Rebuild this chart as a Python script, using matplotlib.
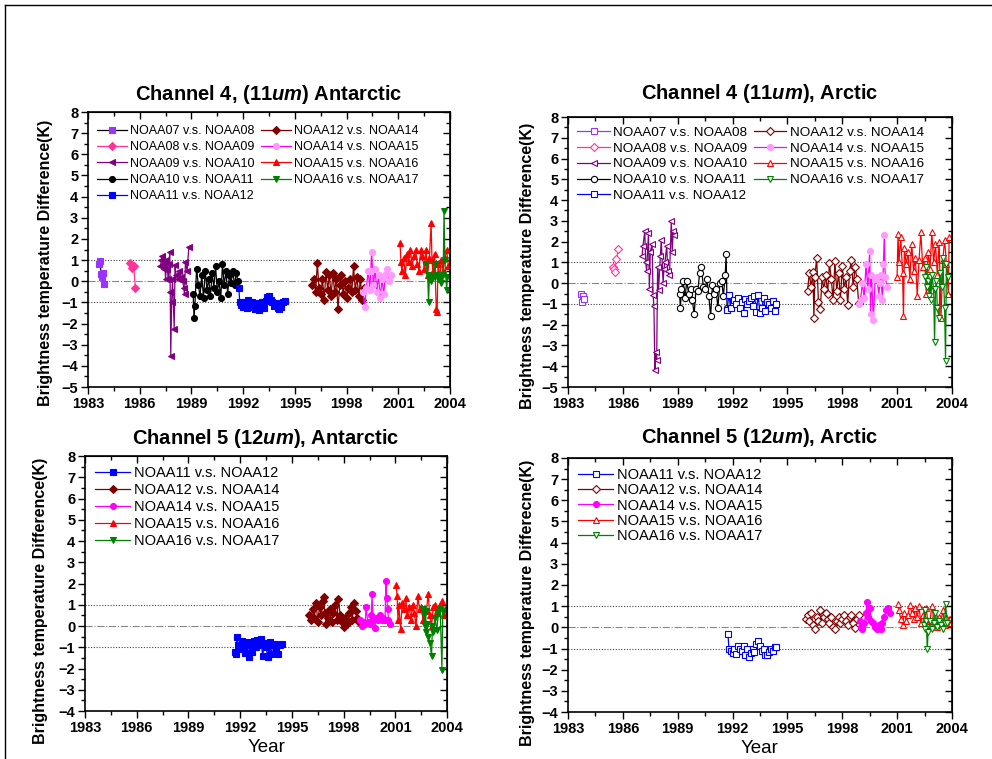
import matplotlib
matplotlib.use('Agg')
import matplotlib.pyplot as plt
from matplotlib.lines import Line2D
from matplotlib.ticker import MultipleLocator

plt.rcParams['font.family'] = ['Liberation Sans', 'DejaVu Sans']
plt.rcParams['mathtext.fontset'] = 'custom'
plt.rcParams['mathtext.it'] = 'Liberation Sans:italic:bold'
plt.rcParams['mathtext.rm'] = 'Liberation Sans:bold'

# ---- Channel 4 Antarctic ----
a4_n07_x = [1983.65, 1983.7, 1983.75, 1983.8, 1983.85, 1983.9]
a4_n07_y = [0.8, 0.95, 0.35, 0.2, 0.4, -0.15]
a4_n08_x = [1985.45, 1985.55, 1985.65, 1985.75]
a4_n08_y = [0.85, 0.65, 0.7, -0.3]
a4_n09_x = [1987.2, 1987.25, 1987.3, 1987.35, 1987.4, 1987.45, 1987.5, 1987.55, 1987.6, 1987.65,
            1987.7, 1987.74, 1987.77, 1987.8, 1987.85, 1987.9, 1988.0, 1988.05, 1988.1, 1988.2,
            1988.3, 1988.4, 1988.5, 1988.55, 1988.6, 1988.65, 1988.75, 1988.85]
a4_n09_y = [0.7, 1.0, 1.2, 0.8, 0.6, 0.9, 0.1, 1.0, 0.6, 0.1, 0.8, 1.4, -0.5, -3.55, -1.0, 0.1,
            -2.25, 0.75, 0.3, 0.1, 0.5, 0.2, 0.0, -0.3, -0.6, 0.9, 0.5, 1.6]
a4_n10_x = [1989.1, 1989.15, 1989.2, 1989.3, 1989.4, 1989.5, 1989.6, 1989.7, 1989.8, 1989.9,
            1990.0, 1990.1, 1990.2, 1990.3, 1990.4, 1990.5, 1990.6, 1990.7, 1990.8, 1990.9,
            1991.0, 1991.1, 1991.2, 1991.3, 1991.4, 1991.5, 1991.6, 1991.7]
a4_n10_y = [-0.6, -1.75, -1.15, 0.6, -0.2, -0.7, 0.3, -0.8, 0.5, -0.4, 0.1, -0.7, 0.4, -0.3, 0.7,
            -0.5, 0.0, -0.8, 0.8, -0.2, 0.5, -0.6, 0.3, -0.1, 0.5, -0.2, 0.4, 0.0]
a4_n11_x = [1991.75, 1991.8, 1991.9, 1992.0, 1992.1, 1992.2, 1992.3, 1992.4, 1992.5, 1992.6,
            1992.7, 1992.8, 1992.9, 1993.0, 1993.1, 1993.2, 1993.3, 1993.4, 1993.5, 1993.6,
            1993.7, 1993.8, 1993.9, 1994.0, 1994.1, 1994.2, 1994.3, 1994.4]
a4_n11_y = [-0.3, -1.0, -1.1, -1.2, -1.0, -1.25, -0.9, -1.1, -1.0, -1.2, -1.3, -1.05, -1.35, -1.1,
            -1.0, -1.25, -0.95, -0.75, -0.7, -0.9, -1.0, -1.15, -1.05, -1.25, -1.3, -1.2, -1.0, -0.95]
a4_n12_x = [1996.0, 1996.1, 1996.2, 1996.3, 1996.4, 1996.5, 1996.6, 1996.7, 1996.8, 1996.9,
            1997.0, 1997.1, 1997.2, 1997.3, 1997.4, 1997.5, 1997.6, 1997.7, 1997.8, 1997.9,
            1998.0, 1998.1, 1998.2, 1998.3, 1998.4, 1998.5, 1998.6, 1998.7, 1998.8, 1998.9, 1999.0]
a4_n12_y = [-0.2, 0.1, -0.5, 0.85, -0.3, -0.6, 0.1, -0.9, 0.45, -0.4, 0.3, -0.7, 0.4, -0.5, 0.1,
            -1.3, -0.2, 0.3, -0.6, 0.0, -0.8, -0.3, 0.1, -0.5, 0.7, -0.4, 0.2, -0.7, 0.1, -0.9, -0.3]
a4_n14_x = [1998.95, 1999.05, 1999.15, 1999.25, 1999.35, 1999.4, 1999.45, 1999.55, 1999.65,
            1999.75, 1999.85, 1999.95, 2000.05, 2000.15, 2000.25, 2000.35, 2000.45, 2000.55]
a4_n14_y = [-0.5, -1.2, -0.3, 0.5, -0.4, 0.5, 1.4, -0.2, 0.6, -0.5, 0.3, -0.8, 0.1, -0.6, 0.3,
            0.6, 0.0, 0.3]
a4_n15_x = [2001.1, 2001.15, 2001.2, 2001.3, 2001.4, 2001.5, 2001.6, 2001.7, 2001.8, 2001.9,
            2002.0, 2002.1, 2002.2, 2002.3, 2002.4, 2002.5, 2002.6, 2002.7, 2002.8, 2002.9,
            2002.95, 2003.0, 2003.1, 2003.2, 2003.25, 2003.3, 2003.4, 2003.5, 2003.6, 2003.7,
            2003.8, 2003.9]
a4_n15_y = [1.8, 0.9, 0.5, 1.1, 0.3, 1.3, 0.9, 1.5, 0.7, 1.2, 1.5, 0.8, 0.5, 1.5, 1.2, 0.6, 1.5,
            0.3, 1.1, 2.75, 1.0, 0.5, 1.3, -1.3, -1.45, 0.8, 0.2, 1.0, 0.5, 1.1, 1.5, 0.7]
a4_n16_x = [2002.6, 2002.7, 2002.75, 2002.8, 2002.9, 2003.0, 2003.1, 2003.2, 2003.3, 2003.4,
            2003.5, 2003.6, 2003.65, 2003.7, 2003.8, 2003.85]
a4_n16_y = [0.8, 0.3, -1.0, 0.1, 0.0, 0.2, 0.8, 0.3, 0.1, 0.2, -0.1, 0.3, 3.3, 1.0, -0.4, 0.2]

# ---- Channel 4 Arctic ----
r4_n07_x = [1983.7, 1983.75, 1983.8, 1983.85]
r4_n07_y = [-0.5, -0.9, -0.6, -0.75]
r4_n08_x = [1985.45, 1985.5, 1985.55, 1985.65, 1985.75]
r4_n08_y = [0.8, 0.7, 0.55, 1.15, 1.65]
r4_n09_x = [1987.05, 1987.1, 1987.2, 1987.25, 1987.3, 1987.4, 1987.45, 1987.5, 1987.6, 1987.65,
            1987.7, 1987.75, 1987.8, 1987.85, 1987.9, 1987.95, 1988.05, 1988.1, 1988.2, 1988.25,
            1988.3, 1988.4, 1988.45, 1988.55, 1988.65, 1988.7, 1988.75, 1988.8]
r4_n09_y = [1.3, 1.8, 2.5, 1.0, 0.6, 2.4, -0.3, 1.5, 1.9, -0.55, -1.1, -4.2, -3.3, -3.7, 0.8,
            -0.35, 1.3, 2.1, 0.0, 0.7, 1.0, 1.8, 0.6, 0.4, 3.0, 1.5, 2.5, 2.3]
r4_n10_x = [1989.1, 1989.15, 1989.2, 1989.3, 1989.4, 1989.5, 1989.6, 1989.7, 1989.8, 1989.9,
            1990.0, 1990.1, 1990.2, 1990.3, 1990.4, 1990.5, 1990.6, 1990.7, 1990.8, 1990.9,
            1991.0, 1991.1, 1991.2, 1991.3, 1991.4, 1991.5, 1991.6, 1991.65, 1991.7]
r4_n10_y = [-0.5, -1.2, -0.3, 0.1, -0.7, 0.1, -0.5, -0.3, -0.8, -1.5, -0.3, -0.4, 0.5, 0.8, -0.2,
            -0.3, 0.2, -0.6, -1.6, -0.1, -0.5, -0.3, -1.2, 0.0, 0.1, -0.6, 0.4, 1.4, -1.2]
r4_n11_x = [1991.7, 1991.8, 1991.9, 1992.0, 1992.1, 1992.2, 1992.3, 1992.4, 1992.5, 1992.6,
            1992.7, 1992.8, 1992.9, 1993.0, 1993.1, 1993.2, 1993.3, 1993.4, 1993.5, 1993.6,
            1993.7, 1993.8, 1993.9, 1994.0, 1994.1, 1994.2, 1994.3, 1994.35]
r4_n11_y = [-1.3, -0.55, -1.2, -0.9, -0.8, -1.0, -0.7, -1.2, -0.9, -1.45, -0.75, -1.0, -0.85,
            -0.7, -1.1, -0.6, -1.4, -0.55, -1.45, -1.2, -0.7, -1.35, -0.9, -1.0, -1.2, -0.85,
            -1.35, -1.0]
r4_n12_x = [1996.1, 1996.2, 1996.3, 1996.4, 1996.45, 1996.5, 1996.6, 1996.7, 1996.8, 1996.9,
            1997.0, 1997.1, 1997.2, 1997.3, 1997.4, 1997.5, 1997.6, 1997.7, 1997.8, 1997.9,
            1998.0, 1998.1, 1998.2, 1998.3, 1998.4, 1998.5, 1998.6, 1998.7, 1998.8, 1998.9]
r4_n12_y = [-0.4, 0.5, -0.2, 0.55, -1.7, 0.3, 1.2, -0.9, -1.25, 0.3, -0.3, 0.4, -0.5, 0.95, 0.2,
            -0.8, 1.05, -0.4, 0.5, -0.8, 0.85, -0.3, 0.3, -1.05, 0.6, 1.1, -0.2, 0.8, 0.2, -0.95]
r4_n14_x = [1998.9, 1999.0, 1999.1, 1999.2, 1999.3, 1999.4, 1999.5, 1999.55, 1999.6, 1999.7,
            1999.8, 1999.9, 2000.0, 2000.05, 2000.1, 2000.2, 2000.25, 2000.3, 2000.35, 2000.45]
r4_n14_y = [-1.0, -0.8, 0.0, -0.7, 0.9, -0.3, 1.55, -1.5, 0.4, -1.75, 0.2, 0.3, -0.6, 0.0, 0.4,
            -0.8, 0.9, 2.3, 0.3, -0.2]
r4_n15_x = [2001.0, 2001.05, 2001.1, 2001.2, 2001.3, 2001.35, 2001.4, 2001.5, 2001.6, 2001.7,
            2001.8, 2001.9, 2002.0, 2002.1, 2002.2, 2002.3, 2002.4, 2002.5, 2002.6, 2002.7,
            2002.8, 2002.9, 2003.0, 2003.1, 2003.2, 2003.3, 2003.4, 2003.5, 2003.6, 2003.7,
            2003.8, 2003.85]
r4_n15_y = [0.3, 2.35, 1.0, 2.2, 0.5, -1.6, 1.7, 0.9, 1.5, 0.2, 1.9, 0.6, 1.2, -0.6, 1.1, 2.45,
            0.8, 1.2, -0.5, 1.5, 0.7, 2.45, 1.0, 1.9, 0.4, 2.0, -1.7, 1.1, 2.1, 0.9, -0.5, 2.2]
r4_n16_x = [2002.55, 2002.6, 2002.65, 2002.7, 2002.75, 2002.8, 2002.85, 2002.9, 2003.0, 2003.05,
            2003.1, 2003.15, 2003.2, 2003.3, 2003.35, 2003.45, 2003.5, 2003.6, 2003.65, 2003.7,
            2003.8]
r4_n16_y = [0.3, 0.8, -0.2, 0.1, -0.6, 0.3, -0.8, 0.4, -0.3, -2.85, -0.3, 0.1, -1.2, -1.7, 0.5,
            -0.2, 1.2, -1.2, -3.75, 0.9, 0.3]

# ---- Channel 5 Antarctic ----
a5_n11_x = [1991.7, 1991.75, 1991.8, 1991.9, 1992.0, 1992.1, 1992.2, 1992.3, 1992.4, 1992.5,
            1992.6, 1992.7, 1992.8, 1992.9, 1993.0, 1993.1, 1993.2, 1993.3, 1993.4, 1993.5,
            1993.6, 1993.7, 1993.8, 1993.9, 1994.0, 1994.1, 1994.2, 1994.3, 1994.4]
a5_n11_y = [-1.2, -1.3, -0.5, -0.9, -1.1, -0.7, -1.0, -1.25, -0.75, -1.45, -0.9, -1.2, -0.7,
            -1.0, -0.65, -0.9, -0.6, -1.4, -0.8, -1.0, -1.45, -0.75, -1.3, -0.9, -0.85, -1.05,
            -1.3, -0.9, -0.85]
a5_n12_x = [1996.0, 1996.1, 1996.2, 1996.3, 1996.4, 1996.5, 1996.6, 1996.7, 1996.8, 1996.85,
            1996.9, 1997.0, 1997.1, 1997.2, 1997.3, 1997.4, 1997.5, 1997.6, 1997.7, 1997.8,
            1997.9, 1998.0, 1998.1, 1998.2, 1998.3, 1998.4, 1998.5, 1998.6, 1998.7, 1998.8, 1998.9]
a5_n12_y = [0.5, 0.3, 0.8, 0.4, 1.1, 0.2, 0.9, 0.5, 1.2, 1.35, 0.6, 0.1, 0.4, 0.8, 0.2, 0.6, 1.0,
            0.3, 1.25, 0.5, 0.2, -0.05, 0.4, 0.1, 0.6, 0.9, 0.3, 1.1, 0.7, 0.4, 0.2]
a5_n14_x = [1998.95, 1999.05, 1999.15, 1999.25, 1999.3, 1999.4, 1999.5, 1999.6, 1999.65, 1999.7,
            1999.8, 1999.9, 2000.0, 2000.1, 2000.2, 2000.3, 2000.4, 2000.45, 2000.5, 2000.55,
            2000.6, 2000.7]
a5_n14_y = [0.3, 0.0, 0.2, 0.1, 0.9, 0.2, 0.1, 0.5, 1.5, 0.3, -0.1, 0.4, 0.3, 0.5, 0.3, 0.4, 0.3,
            2.1, 1.3, 0.8, 0.3, 0.1]
a5_n15_x = [2001.05, 2001.1, 2001.15, 2001.2, 2001.3, 2001.4, 2001.5, 2001.6, 2001.7, 2001.8,
            2001.9, 2002.0, 2002.1, 2002.2, 2002.3, 2002.4, 2002.5, 2002.6, 2002.7, 2002.8,
            2002.9, 2003.0, 2003.1, 2003.2, 2003.3, 2003.4, 2003.5, 2003.6, 2003.7, 2003.8,
            2003.9, 2004.0]
a5_n15_y = [1.95, 1.4, 0.3, 1.0, -0.15, 1.1, 0.8, 1.3, 0.5, 0.9, 0.3, 1.0, 0.6, 0.0, 1.4, 0.8,
            0.9, 0.3, 0.8, 0.7, 1.5, 0.5, 0.0, 0.9, 1.0, 0.7, 0.6, 1.0, 1.2, 0.5, 0.8, 0.5]
a5_n16_x = [2002.6, 2002.65, 2002.7, 2002.75, 2002.8, 2002.85, 2002.9, 2003.0, 2003.1, 2003.15,
            2003.2, 2003.3, 2003.4, 2003.5, 2003.6, 2003.7, 2003.75]
a5_n16_y = [0.8, 0.5, 0.0, 0.7, -0.3, 0.1, -0.5, -0.8, -1.4, 0.0, -0.3, 0.4, -0.2, 0.6, 0.8,
            -2.05, 0.7]

# ---- Channel 5 Arctic ----
r5_n11_x = [1991.75, 1991.8, 1991.9, 1992.0, 1992.1, 1992.2, 1992.3, 1992.4, 1992.5, 1992.6,
            1992.7, 1992.8, 1992.9, 1993.0, 1993.1, 1993.2, 1993.3, 1993.4, 1993.5, 1993.6,
            1993.7, 1993.8, 1993.9, 1994.0, 1994.1, 1994.2, 1994.3, 1994.4]
r5_n11_y = [-0.3, -1.0, -1.1, -1.2, -1.0, -1.25, -0.9, -1.0, -1.1, -0.9, -1.3, -1.0, -1.4, -1.2,
            -1.0, -1.15, -0.8, -0.65, -0.9, -1.1, -1.0, -1.3, -1.3, -1.15, -1.0, -1.1, -0.95, -0.95]
r5_n12_x = [1996.0, 1996.1, 1996.2, 1996.3, 1996.4, 1996.5, 1996.6, 1996.7, 1996.8, 1996.9,
            1997.0, 1997.1, 1997.2, 1997.3, 1997.4, 1997.5, 1997.6, 1997.7, 1997.8, 1997.9,
            1998.0, 1998.1, 1998.2, 1998.3, 1998.4, 1998.5, 1998.6, 1998.7, 1998.8, 1998.9]
r5_n12_y = [0.4, 0.6, 0.3, 0.7, 0.1, -0.1, 0.5, 0.3, 0.8, 0.2, 0.5, 0.7, 0.4, 0.2, 0.5, 0.0, -0.1,
            0.3, 0.5, 0.2, 0.4, 0.6, 0.3, 0.1, 0.5, 0.6, 0.2, -0.05, 0.4, 0.6]
r5_n14_x = [1998.95, 1999.05, 1999.1, 1999.2, 1999.3, 1999.35, 1999.4, 1999.5, 1999.6, 1999.7,
            1999.8, 1999.9, 2000.0, 2000.1, 2000.2, 2000.3, 2000.4, 2000.5, 2000.6]
r5_n14_y = [0.3, 0.0, -0.1, 0.2, 0.7, 1.2, 0.5, 0.9, 0.3, 0.2, 0.0, -0.1, 0.1, -0.1, 0.2, 0.5,
            0.8, 0.9, 0.7]
r5_n15_x = [2001.05, 2001.1, 2001.2, 2001.3, 2001.4, 2001.5, 2001.6, 2001.7, 2001.8, 2001.9,
            2002.0, 2002.1, 2002.2, 2002.3, 2002.4, 2002.5, 2002.6, 2002.7, 2002.8, 2002.9,
            2003.0, 2003.1, 2003.2, 2003.3, 2003.4, 2003.5, 2003.6, 2003.7, 2003.8, 2003.9, 2003.95]
r5_n15_y = [1.1, 0.8, 0.4, 0.1, 0.7, 0.3, 0.6, 1.05, 0.7, 0.4, 0.9, 0.5, 1.0, 0.2, 0.6, 0.3, 0.9,
            0.1, 0.3, 1.0, 0.4, 0.6, 0.0, 0.5, 0.3, 0.8, 0.1, 0.5, 0.2, 0.4, 0.2]
r5_n16_x = [2002.45, 2002.5, 2002.55, 2002.6, 2002.65, 2002.7, 2002.8, 2002.9, 2003.0, 2003.1,
            2003.2, 2003.3, 2003.4, 2003.5, 2003.6, 2003.65, 2003.75]
r5_n16_y = [0.1, 0.8, -0.1, 0.3, -1.0, -0.2, 0.3, -0.1, 0.2, 0.7, 0.0, 0.3, 0.1, -0.1, 0.2, 1.1,
            0.2]

# colours
c07 = '#9933FF'
c08 = '#FF3399'
c09 = '#800080'
c10 = '#000000'
c11 = '#0000FF'
c12 = '#800000'
c14 = '#FF99FF'
c14b = '#FF00FF'
c15 = '#FF0000'
c16 = '#008000'


def series(ax, x, y, color, marker, label, hollow=False, mcolor=None):
    mc = mcolor if mcolor else color
    ax.plot(x, y, color=color, marker=marker, linewidth=0.9,
            markersize=4.5 if hollow else 4.3,
            markerfacecolor='white' if hollow else mc,
            markeredgecolor=mc, markeredgewidth=0.8, label=label)


def setup(ax, ymin, title, ylabel, xlabel=None, tpad=8):
    ax.set_xlim(1983, 2004)
    ax.set_ylim(ymin, 8)
    ax.xaxis.set_major_locator(MultipleLocator(3))
    ax.xaxis.set_minor_locator(MultipleLocator(1.5))
    ax.yaxis.set_major_locator(MultipleLocator(1))
    ax.yaxis.set_minor_locator(MultipleLocator(0.5))
    ax.tick_params(which='major', direction='out', length=5, width=1, labelsize=10.5, pad=2)
    ax.tick_params(which='minor', direction='out', length=3, width=1)
    for lab in ax.get_xticklabels() + ax.get_yticklabels():
        lab.set_fontweight('bold')
    for s in ax.spines.values():
        s.set_linewidth(1.2)
    # mirrored ticks pointing inward
    top = ax.secondary_xaxis('top')
    top.xaxis.set_major_locator(MultipleLocator(3))
    top.xaxis.set_minor_locator(MultipleLocator(1.5))
    top.tick_params(which='major', direction='in', length=5, width=1, labeltop=False)
    top.tick_params(which='minor', direction='in', length=3, width=1)
    right = ax.secondary_yaxis('right')
    right.yaxis.set_major_locator(MultipleLocator(1))
    right.yaxis.set_minor_locator(MultipleLocator(0.5))
    right.tick_params(which='major', direction='in', length=5, width=1, labelright=False)
    right.tick_params(which='minor', direction='in', length=3, width=1)

    ax.axhline(1, ls=(0, (1, 1.5)), color='#444444', lw=0.8, zorder=0)
    ax.axhline(0, ls='-.', color='#888888', lw=0.8, zorder=0)
    ax.axhline(-1, ls=(0, (1, 1.5)), color='#444444', lw=0.8, zorder=0)

    ax.set_title(title, fontsize=14.5, fontweight='bold', pad=tpad)
    ax.set_ylabel(ylabel, fontsize=11.5, fontweight='bold')
    if xlabel:
        ax.set_xlabel(xlabel, fontsize=13.5, labelpad=3)


fig = plt.figure(figsize=(9.92, 7.59), dpi=100)
ax1 = fig.add_axes([0.0887, 0.4901, 0.365, 0.3623])
ax2 = fig.add_axes([0.5726, 0.4901, 0.387, 0.3557])
ax3 = fig.add_axes([0.0857, 0.0632, 0.365, 0.336])
ax4 = fig.add_axes([0.5726, 0.0619, 0.387, 0.3347])

ylab = 'Brightness temperature Difference(K)'

# Channel 4 Antarctic
series(ax1, a4_n07_x, a4_n07_y, '#000000', 's', 'NOAA07 v.s. NOAA08', mcolor=c07)
series(ax1, a4_n08_x, a4_n08_y, c08, 'D', 'NOAA08 v.s. NOAA09')
series(ax1, a4_n09_x, a4_n09_y, c09, '<', 'NOAA09 v.s. NOAA10')
series(ax1, a4_n10_x, a4_n10_y, c10, 'o', 'NOAA10 v.s. NOAA11')
series(ax1, a4_n11_x, a4_n11_y, c11, 's', 'NOAA11 v.s. NOAA12')
series(ax1, a4_n12_x, a4_n12_y, c12, 'D', 'NOAA12 v.s. NOAA14')
series(ax1, a4_n14_x, a4_n14_y, c14b, 'o', 'NOAA14 v.s. NOAA15', mcolor=c14)
series(ax1, a4_n15_x, a4_n15_y, c15, '^', 'NOAA15 v.s. NOAA16')
series(ax1, a4_n16_x, a4_n16_y, c16, 'v', 'NOAA16 v.s. NOAA17')
setup(ax1, -5, 'Channel 4, (11$\\mathit{um}$) Antarctic', ylab, tpad=9)

# Channel 4 Arctic
series(ax2, r4_n07_x, r4_n07_y, c07, 's', 'NOAA07 v.s. NOAA08', hollow=True)
series(ax2, r4_n08_x, r4_n08_y, c08, 'D', 'NOAA08 v.s. NOAA09', hollow=True)
series(ax2, r4_n09_x, r4_n09_y, c09, '<', 'NOAA09 v.s. NOAA10', hollow=True)
series(ax2, r4_n10_x, r4_n10_y, c10, 'o', 'NOAA10 v.s. NOAA11', hollow=True)
series(ax2, r4_n11_x, r4_n11_y, c11, 's', 'NOAA11 v.s. NOAA12', hollow=True)
series(ax2, r4_n12_x, r4_n12_y, c12, 'D', 'NOAA12 v.s. NOAA14', hollow=True)
series(ax2, r4_n14_x, r4_n14_y, c14b, 'o', 'NOAA14 v.s. NOAA15', mcolor=c14)
series(ax2, r4_n15_x, r4_n15_y, c15, '^', 'NOAA15 v.s. NOAA16', hollow=True)
series(ax2, r4_n16_x, r4_n16_y, c16, 'v', 'NOAA16 v.s. NOAA17', hollow=True)
setup(ax2, -5, 'Channel 4 (11$\\mathit{um}$), Arctic', ylab, tpad=13)

# Channel 5 Antarctic
series(ax3, a5_n11_x, a5_n11_y, c11, 's', 'NOAA11 v.s. NOAA12')
series(ax3, a5_n12_x, a5_n12_y, c12, 'D', 'NOAA12 v.s. NOAA14')
series(ax3, a5_n14_x, a5_n14_y, c14b, 'o', 'NOAA14 v.s. NOAA15', mcolor=c14b)
series(ax3, a5_n15_x, a5_n15_y, c15, '^', 'NOAA15 v.s. NOAA16')
series(ax3, a5_n16_x, a5_n16_y, c16, 'v', 'NOAA16 v.s. NOAA17')
setup(ax3, -4, 'Channel 5 (12$\\mathit{um}$), Antarctic', ylab, 'Year', tpad=9)

# Channel 5 Arctic
series(ax4, r5_n11_x, r5_n11_y, c11, 's', 'NOAA11 v.s. NOAA12', hollow=True)
series(ax4, r5_n12_x, r5_n12_y, c12, 'D', 'NOAA12 v.s. NOAA14', hollow=True)
series(ax4, r5_n14_x, r5_n14_y, c14b, 'o', 'NOAA14 v.s. NOAA15')
series(ax4, r5_n15_x, r5_n15_y, c15, '^', 'NOAA15 v.s. NOAA16', hollow=True)
series(ax4, r5_n16_x, r5_n16_y, c16, 'v', 'NOAA16 v.s. NOAA17', hollow=True)
setup(ax4, -4, 'Channel 5 (12$\\mathit{um}$), Arctic',
      'Brightness temperature Differecne(K)', 'Year', tpad=11)

ax1.legend(loc='upper left', bbox_to_anchor=(0.0, 0.985), ncol=2, frameon=False, fontsize=9,
           handlelength=2.4, handletextpad=0.25, columnspacing=0.5, labelspacing=0.35,
           borderaxespad=0.3)
ax2.legend(loc='upper left', ncol=2, frameon=False, fontsize=9.7, handlelength=2.4,
           handletextpad=0.25, columnspacing=0.5, labelspacing=0.25, borderaxespad=0.3)
ax3.legend(loc='upper left', frameon=False, fontsize=10.5, handlelength=2.4,
           handletextpad=0.25, labelspacing=0.2, borderaxespad=0.3)
ax4.legend(loc='upper left', frameon=False, fontsize=10.5, handlelength=2.4,
           handletextpad=0.25, labelspacing=0.08, borderaxespad=0.3)

ax1.yaxis.set_label_coords(-0.097, 0.45)
ax3.yaxis.set_label_coords(-0.102, 0.43)
ax2.yaxis.set_label_coords(-0.086, 0.45)
ax4.yaxis.set_label_coords(-0.086, 0.43)

# outer frame lines (top and left)
fig.add_artist(Line2D([5 / 992, 1], [1 - 5 / 759, 1 - 5 / 759], transform=fig.transFigure,
                      color='black', linewidth=1))
fig.add_artist(Line2D([5 / 992, 5 / 992], [0, 1 - 5 / 759], transform=fig.transFigure,
                      color='black', linewidth=1))

fig.savefig('out.png', dpi=100)
